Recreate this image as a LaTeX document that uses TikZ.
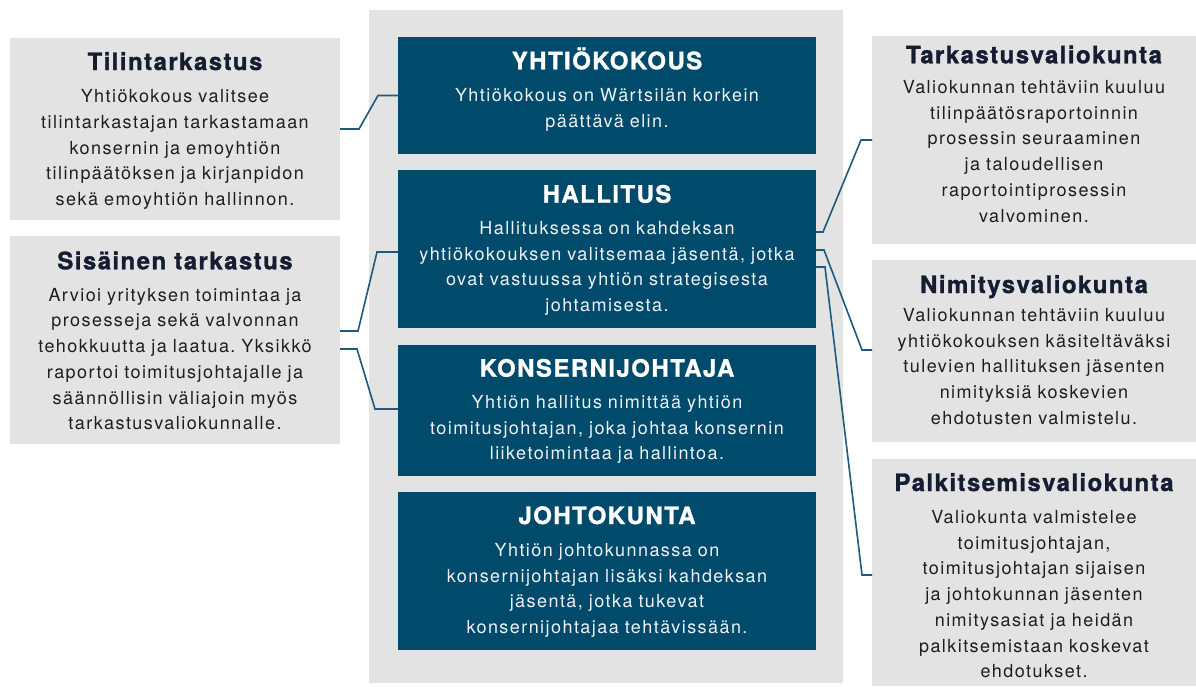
\documentclass[tikz,border=0pt]{standalone}
\usepackage{fontspec}
\setmainfont{TeX Gyre Heros}
\newfontfamily\bodyfont[LetterSpace=8]{TeX Gyre Heros}
\newfontfamily\headfont[LetterSpace=6,BoldFeatures={FakeBold=1.2}]{TeX Gyre Heros}
\usetikzlibrary{calc}
\frenchspacing
\definecolor{panelgray}{HTML}{E3E3E3}
\definecolor{darkblue}{HTML}{004B6B}
\definecolor{linecol}{HTML}{1F5A7A}
\definecolor{headcol}{HTML}{161D33}
\definecolor{txtcol}{HTML}{1E1E1E}
\definecolor{lighttxt}{HTML}{EEF2F5}
\newcommand{\bstrut}{\rule{0pt}{15pt}}
\tikzset{
  box/.style={rectangle, inner sep=0pt, outer sep=0pt, anchor=north west, draw=none},
  graybox/.style={box, fill=panelgray},
  darkbox/.style={box, fill=darkblue},
  head/.style={anchor=base, inner sep=0pt, font=\headfont\bfseries\fontsize{24}{28}\selectfont, text=headcol},
  darkhead/.style={head, text=white},
  body/.style={anchor=north, inner sep=0pt, text width=420pt, align=center, font=\bodyfont\frenchspacing\fontsize{18}{25.7}\selectfont, text=txtcol},
  darkbody/.style={body, text=lighttxt},
  conn/.style={draw=linecol, line width=1.6pt, line join=miter}
}
\begin{document}
\begin{tikzpicture}[x=1pt,y=-1pt]
\useasboundingbox (0,0) rectangle (1196,686);
% central panel
\node[graybox, minimum width=474pt, minimum height=673pt] (panel) at (369,10) {};
% dark boxes
\node[darkbox, minimum width=418pt, minimum height=117pt] (yk) at (398,37) {};
\node[darkbox, minimum width=418pt, minimum height=158pt] (hal) at (398,170) {};
\node[darkbox, minimum width=418pt, minimum height=131pt] (kj) at (398,345) {};
\node[darkbox, minimum width=418pt, minimum height=158pt] (jk) at (398,492) {};
% left boxes
\node[graybox, minimum width=330pt, minimum height=182pt] (tili) at (10,38) {};
\node[graybox, minimum width=330pt, minimum height=208pt] (sis) at (10,236) {};
% right boxes
\node[graybox, minimum width=324pt, minimum height=208pt] (tark) at (872,36) {};
\node[graybox, minimum width=324pt, minimum height=182pt] (nimi) at (872,260) {};
\node[graybox, minimum width=324pt, minimum height=227pt] (palk) at (872,459) {};

% texts: dark boxes
\node[darkhead] (ykh) at (607,69.3) {YHTIÖKOKOUS};
\node[darkbody] (ykb) at (607,86.7) {\bstrut Yhtiökokous on Wärtsilän korkein\\päättävä elin.};
\node[darkhead] (halh) at (607,202.7) {HALLITUS};
\node[darkbody] (halb) at (607,219.3) {\bstrut Hallituksessa on kahdeksan\\yhtiökokouksen valitsemaa jäsentä, jotka\\ovat vastuussa yhtiön strategisesta\\johtamisesta.};
\node[darkhead] (kjh) at (607,376.7) {KONSERNIJOHTAJA};
\node[darkbody] (kjb) at (607,393.3) {\bstrut Yhtiön hallitus nimittää yhtiön\\toimitusjohtajan, joka johtaa konsernin\\liiketoimintaa ja hallintoa.};
\node[darkhead] (jkh) at (607,524) {JOHTOKUNTA};
\node[darkbody] (jkb) at (607,541.3) {\bstrut Yhtiön johtokunnassa on\\konsernijohtajan lisäksi kahdeksan\\jäsentä, jotka tukevat\\konsernijohtajaa tehtävissään.};

% texts: left boxes
\node[head] (tilih) at (175,70) {Tilintarkastus};
\node[body] (tilib) at (175,87.5) {\bstrut Yhtiökokous valitsee\\tilintarkastajan tarkastamaan\\konsernin ja emoyhtiön\\tilinpäätöksen ja kirjanpidon\\sekä emoyhtiön hallinnon.};
\node[head] (sish) at (175,269.3) {Sisäinen tarkastus};
\node[body] (sisb) at (175,286) {\bstrut Arvioi yrityksen toimintaa ja\\prosesseja sekä valvonnan\\tehokkuutta ja laatua. Yksikkö\\raportoi toimitusjohtajalle ja\\säännöllisin väliajoin myös\\tarkastusvaliokunnalle.};

% texts: right boxes
\node[head] (tarkh) at (1034,63.3) {Tarkastusvaliokunta};
\node[body] (tarkb) at (1034,78.3) {\bstrut Valiokunnan tehtäviin kuuluu\\tilinpäätösraportoinnin\\prosessin seuraaminen\\ja taloudellisen\\raportointiprosessin\\valvominen.};
\node[head] (nimih) at (1034,293) {Nimitysvaliokunta};
\node[body] (nimib) at (1034,306.3) {\bstrut Valiokunnan tehtäviin kuuluu\\yhtiökokouksen käsiteltäväksi\\tulevien hallituksen jäsenten\\nimityksiä koskevien\\ehdotusten valmistelu.};
\node[head] (palkh) at (1034,491) {Palkitsemisvaliokunta};
\node[body] (palkb) at (1034,508.3) {\bstrut Valiokunta valmistelee\\toimitusjohtajan,\\toimitusjohtajan sijaisen\\ja johtokunnan jäsenten\\nimitysasiat ja heidän\\palkitsemistaan koskevat\\ehdotukset.};

% connectors left
\draw[conn] (tili.east) -- ++(19,0) -- ($(yk.west)+(-20,0)$) -- (yk.west);
\draw[conn] ($(sis.east)+(0,-9)$) -- ++(18,0) -- ($(hal.west)+(-21,3)$) -- ($(hal.west)+(0,3)$);
\draw[conn] ($(sis.east)+(0,9)$) -- ++(17,0) -- ($(kj.west)+(-23,-1.5)$) -- ($(kj.west)+(0,-1.5)$);
% connectors right
\draw[conn] ($(hal.east)+(0,-17)$) -- ++(7,0) -- ($(tark.west)+(-11,0)$) -- (tark.west);
\draw[conn] ($(hal.east)+(0,1)$) -- ++(8,0) -- ($(nimi.west)+(-10,-1)$) -- ($(nimi.west)+(0,-1)$);
\draw[conn] ($(hal.east)+(0,18)$) -- ++(9,0) -- ($(palk.west)+(-10,2.5)$) -- ($(palk.west)+(0,2.5)$);
\end{tikzpicture}
\end{document}
